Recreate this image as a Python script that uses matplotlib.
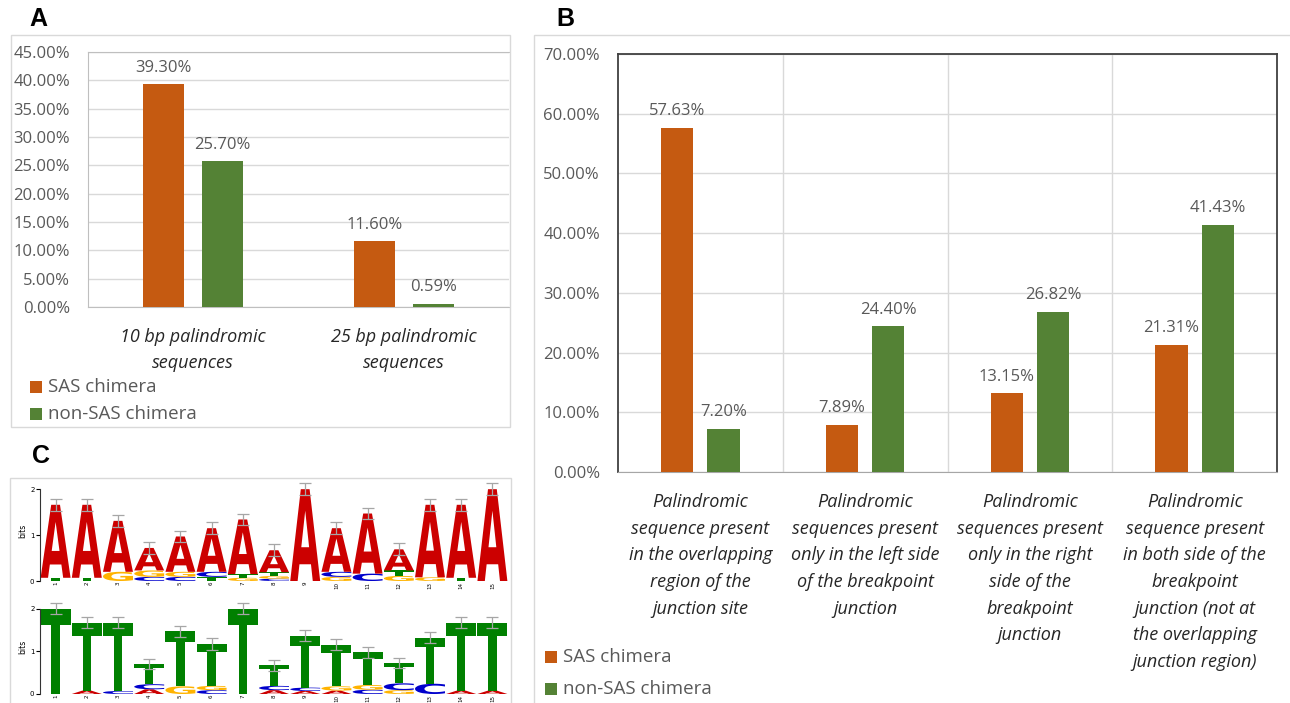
import matplotlib

matplotlib.use("Agg")

import numpy as np
import matplotlib.pyplot as plt
import matplotlib.transforms as mtransforms
from matplotlib.font_manager import FontProperties
from matplotlib.patches import PathPatch, Rectangle
from matplotlib.textpath import TextPath


W, H = 1290, 703

# panel A
A_CATEGORIES = ["10 bp palindromic\nsequences", "25 bp palindromic\nsequences"]
A_SAS = [39.30, 11.60]
A_NON_SAS = [25.70, 0.59]

# panel B
B_CATEGORIES = [
    "Palindromic\nsequence present\nin the overlapping\nregion of the\njunction site",
    "Palindromic\nsequences present\nonly in the left side\nof the breakpoint\njunction",
    "Palindromic\nsequences present\nonly in the right\nside of the\nbreakpoint\njunction",
    "Palindromic\nsequence present\nin both side of the\nbreakpoint\njunction (not at\nthe overlapping\njunction region)",
]
B_SAS = [57.63, 7.89, 13.15, 21.31]
B_NON_SAS = [7.20, 24.40, 26.82, 41.43]

SERIES = ["SAS chimera", "non-SAS chimera"]

# panel C, letter heights (bits) for positions 1..15
LOGO_POS = list(range(1, 16))
TOP_A = [1.59, 1.59, 1.11, 0.49, 0.77, 0.95, 1.19, 0.48, 2.00, 0.95, 1.31, 0.46, 1.58, 1.59, 2.00]
TOP_C = [0, 0, 0, 0.09, 0.09, 0.11, 0, 0.05, 0, 0.11, 0.16, 0, 0, 0, 0]
TOP_G = [0, 0, 0.20, 0.14, 0.11, 0, 0.07, 0.06, 0, 0.09, 0, 0.11, 0.08, 0, 0]
TOP_T = [0.07, 0.07, 0, 0, 0, 0.09, 0.08, 0.08, 0, 0, 0, 0.12, 0, 0.07, 0]
TOP_ERR = [0.13, 0.13, 0.13, 0.13, 0.13, 0.13, 0.13, 0.13, 0.13, 0.13, 0.13, 0.13, 0.13, 0.13, 0.13]

BOT_A = [0, 0.08, 0, 0.11, 0, 0, 0, 0.09, 0.07, 0.08, 0, 0, 0, 0.08, 0.08]
BOT_C = [0, 0, 0.07, 0.12, 0, 0.09, 0, 0.10, 0.08, 0, 0.10, 0.16, 0.24, 0, 0]
BOT_G = [0, 0, 0, 0, 0.18, 0.10, 0, 0, 0, 0.10, 0.11, 0.09, 0, 0, 0]
BOT_T = [2.00, 1.59, 1.60, 0.47, 1.29, 0.98, 2.00, 0.48, 1.21, 0.97, 0.77, 0.48, 1.08, 1.59, 1.59]
BOT_ERR = [0.13, 0.13, 0.13, 0.12, 0.13, 0.13, 0.13, 0.12, 0.13, 0.13, 0.13, 0.12, 0.13, 0.13, 0.13]

SAS_COLOR = "#C55A11"
NON_COLOR = "#548235"
GRID = "#D9D9D9"
TXT = "#595959"
LETTER_COLORS = {"A": "#CC0000", "C": "#0000CC", "G": "#FFB300", "T": "#008000"}

FONT = "Open Sans"
LOGO_FP = FontProperties(family="DejaVu Sans", weight="bold")


def px_axes(fig, left, top, right, bottom):
    return fig.add_axes([left / W, 1 - bottom / H, (right - left) / W, (bottom - top) / H])


def frame(fig, left, top, right, bottom):
    fig.add_artist(Rectangle((left / W, 1 - bottom / H), (right - left) / W, (bottom - top) / H,
                             transform=fig.transFigure, fill=False, edgecolor="#D9D9D9", linewidth=1.0))


def legend(fig, x, y0, dy):
    for i, (name, color) in enumerate(zip(SERIES, [SAS_COLOR, NON_COLOR])):
        y = y0 + i * dy
        fig.add_artist(Rectangle((x / W, 1 - (y + 6) / H), 12 / W, 12 / H,
                                 transform=fig.transFigure, color=color, linewidth=0))
        fig.text((x + 18) / W, 1 - y / H, name, ha="left", va="center",
                 fontsize=13.5, color=TXT, family=FONT)


def bar_panel(ax, categories, sas, non, ymax, step, pad, spacing):
    x = np.arange(len(categories))
    w, off = 0.195, 0.14
    b1 = ax.bar(x - off, sas, w, color=SAS_COLOR, zorder=3)
    b2 = ax.bar(x + off, non, w, color=NON_COLOR, zorder=3)
    for bars, vals in ((b1, sas), (b2, non)):
        for rect, v in zip(bars, vals):
            ax.annotate(f"{v:.2f}%", (rect.get_x() + rect.get_width() / 2, v),
                        xytext=(0, 12), textcoords="offset points", ha="center", va="center",
                        fontsize=12, color=TXT, family=FONT, zorder=4)
    ax.set_xlim(-0.5, len(categories) - 0.5)
    ax.set_ylim(0, ymax)
    ax.set_yticks(np.arange(0, ymax + 0.01, step))
    ax.set_yticklabels([f"{v:.2f}%" for v in np.arange(0, ymax + 0.01, step)],
                       fontsize=12, color=TXT, family=FONT)
    ax.set_xticks(x)
    ax.set_xticklabels(categories, fontsize=13, style="italic", color="#262626",
                       family=FONT, linespacing=spacing)
    ax.tick_params(axis="both", length=0)
    ax.tick_params(axis="y", pad=13)
    ax.tick_params(axis="x", pad=pad)
    ax.yaxis.grid(True, color=GRID, linewidth=1.0, zorder=0)
    ax.set_axisbelow(True)


def draw_letter(ax, letter, x, y, w, h):
    tp = TextPath((0, 0), letter, size=1, prop=LOGO_FP)
    ext = tp.get_extents()
    t = (mtransforms.Affine2D().translate(-ext.x0, -ext.y0)
         .scale(w / ext.width, h / ext.height).translate(x, y))
    ax.add_patch(PathPatch(t.transform_path(tp), facecolor=LETTER_COLORS[letter],
                           edgecolor="none", zorder=2))


def logo_panel(ax, heights, err):
    totals = []
    for i, pos in enumerate(LOGO_POS):
        stack = sorted((heights[L][i], L) for L in "ACGT" if heights[L][i] > 0)
        y = 0.0
        for h, L in stack:
            draw_letter(ax, L, pos - 0.48, y, 0.96, h)
            y += h
        totals.append(y)
    ax.errorbar(LOGO_POS, totals, yerr=err, fmt="none", ecolor="#A6A6A6",
                elinewidth=0.9, capsize=4.3, capthick=0.9, zorder=3)
    ax.set_xlim(0.5, 15.5)
    ax.set_ylim(0, 2.2)
    for s in ["top", "right", "bottom"]:
        ax.spines[s].set_visible(False)
    ax.spines["left"].set_bounds(0, 2)
    ax.spines["left"].set_color("#333333")
    ax.spines["left"].set_linewidth(0.8)
    ax.set_yticks([0, 1, 2])
    ax.set_yticklabels(["0", "1", "2"], fontsize=5)
    ax.tick_params(axis="y", length=3, width=0.8, pad=1)
    ax.set_xticks(LOGO_POS)
    ax.set_xticklabels([str(p) for p in LOGO_POS], fontsize=4, rotation=90)
    ax.tick_params(axis="x", length=0, pad=0.5)
    ax.set_ylabel("bits", fontsize=5.5, labelpad=2)
    ax.patch.set_alpha(0)


def main():
    fig = plt.figure(figsize=(W / 100, H / 100), dpi=100, facecolor="white")

    frame(fig, 11, 35, 510, 427)
    frame(fig, 534, 35, 1295, 710)
    frame(fig, 10, 478, 511, 710)

    for lab, x, y in (("A", 38, 19), ("B", 565, 19), ("C", 41, 456)):
        fig.text(x / W, 1 - y / H, lab, ha="center", va="center", fontsize=18,
                 fontweight="bold", family="Liberation Sans")

    # A
    ax_a = px_axes(fig, 88, 52, 509, 307)
    bar_panel(ax_a, A_CATEGORIES, A_SAS, A_NON_SAS, 45, 5, 15, 1.6)
    for s in ["left", "top", "bottom"]:
        ax_a.spines[s].set_color("#BFBFBF")
    ax_a.spines["right"].set_visible(False)
    legend(fig, 30, 387, 27)

    # B
    ax_b = px_axes(fig, 618, 54, 1277, 472)
    bar_panel(ax_b, B_CATEGORIES, B_SAS, B_NON_SAS, 70, 10, 15, 1.62)
    for s in ["left", "top", "right"]:
        ax_b.spines[s].set_color("#404040")
        ax_b.spines[s].set_linewidth(1.3)
    ax_b.spines["bottom"].set_color("#A6A6A6")
    ax_b.set_xticks(np.arange(0.5, len(B_CATEGORIES) - 1, 1.0), minor=True)
    ax_b.tick_params(axis="x", which="minor", length=0)
    ax_b.xaxis.grid(True, which="minor", color=GRID, linewidth=1.0, zorder=0)
    legend(fig, 545, 657, 32)

    # C
    ax_c1 = px_axes(fig, 40, 480, 508, 581)
    logo_panel(ax_c1, {"A": TOP_A, "C": TOP_C, "G": TOP_G, "T": TOP_T}, TOP_ERR)
    ax_c2 = px_axes(fig, 40, 600, 508, 694)
    logo_panel(ax_c2, {"A": BOT_A, "C": BOT_C, "G": BOT_G, "T": BOT_T}, BOT_ERR)

    fig.savefig("out.png", dpi=100, facecolor="white")


if __name__ == "__main__":
    main()
